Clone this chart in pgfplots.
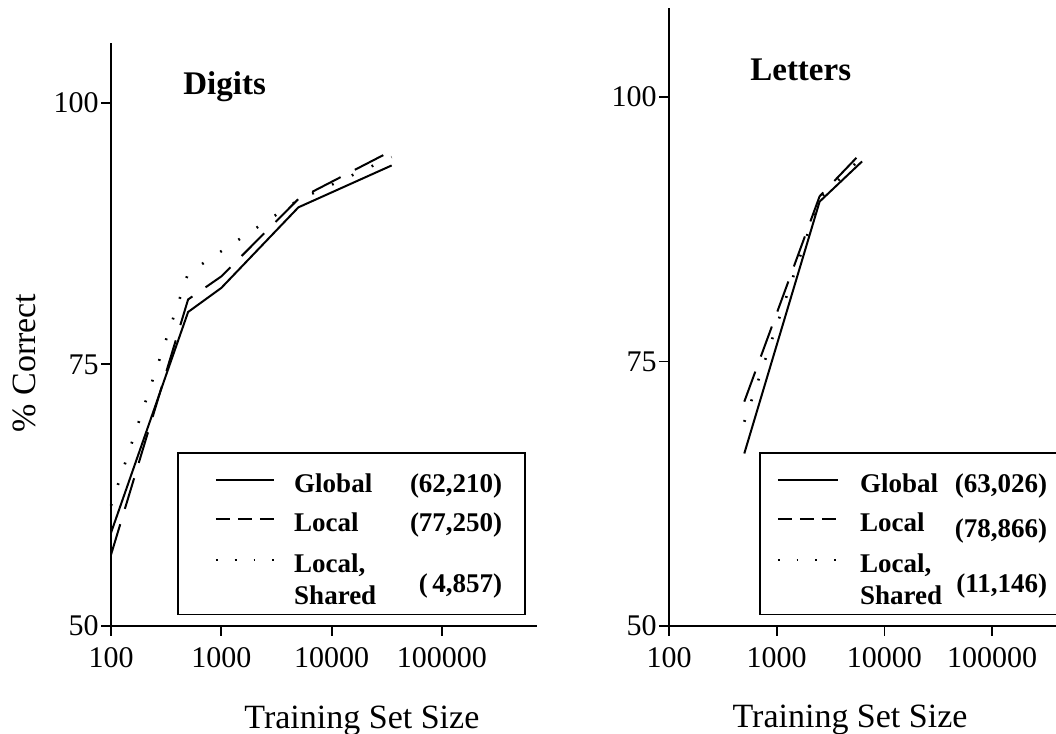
\documentclass[border=0pt]{standalone}
\usepackage{fontspec}
\setmainfont{Liberation Serif}
\usepackage{pgfplots}
\pgfplotsset{compat=1.18}

% 1 px of the reference = 0.5pt
\tikzset{
  gl/.style={black, line width=1pt},
  lo/.style={black, line width=1pt, dash pattern=on 16pt off 8pt},
  ls/.style={black, line width=1.3pt, dash pattern=on 0.9pt off 10pt},
}
\pgfplotsset{
  chartpanel/.style={
    scale only axis, clip=false,
    xminorticks=false, yminorticks=false,
    axis x line=bottom, axis y line=left,
    axis line style={-, line width=0.9pt},
    tick align=outside, major tick length=5pt,
    tick style={black, line width=0.9pt},
    xtick={100,1000,10000,100000}, xticklabels={100,1000,10000,100000},
    ytick={50,75,100}, yticklabels={50,75,100},
    xmin=100, ymin=50,
    ticklabel style={font=\fontsize{15}{18}\selectfont},
    xticklabel style={yshift=-2pt},
    yticklabel style={inner xsep=1pt},
    xlabel={Training Set Size},
    x label style={anchor=base, font=\fontsize{17}{20}\selectfont},
    y label style={rotate=0, anchor=center, font=\fontsize{17}{20}\selectfont},
    legend style={draw=black, line width=0.9pt, fill=white,
      inner xsep=0pt, inner ysep=0pt, row sep=0pt,
      font=\fontsize{13.5}{16}\selectfont\bfseries,
      nodes={inner sep=0pt, text depth=},
      cells={anchor=base west}},
  },
}

\begin{document}
\begin{tikzpicture}

% ---------------- Digits ----------------
\begin{semilogxaxis}[chartpanel,
  at={(55.5pt,54pt)}, anchor=south west,
  width=213pt, height=291.5pt,
  xmax=727800, ymax=105.7,
  ylabel={\% Correct},
  y label style={at={(axis description cs:-0.204,0.451)}},
  x label style={at={(axis description cs:0.589,-0.175)}},
  legend image code/.code={\path[draw=none] (0pt,6.5pt) -- (19pt,6.5pt);
    \draw[#1] (19pt,6.5pt) -- (48pt,6.5pt);},
  legend style={at={(0.155,0.2985)}, anchor=north west,
    /tikz/every odd column/.style={column sep=9.5pt}},
]
\addplot[gl, forget plot] coordinates {(100,58.9) (500,80.0) (1000,82.3) (5000,90.0) (35000,94.0)};
\addplot[lo, forget plot] coordinates {(100,56.8) (500,81.2) (1000,83.4) (5000,90.8) (35000,95.4)};
\addplot[ls, forget plot] coordinates {(100,61.5) (500,83.7) (5000,90.7) (35000,94.8)};

\addlegendimage{black, line width=1pt}
\addlegendentry{\rule[-5pt]{0pt}{25pt}\makebox[55.5pt][l]{Global}\makebox[48.5pt][r]{(62,210)}\kern11.5pt}
\addlegendimage{black, line width=1pt, dash pattern=on 7pt off 4pt}
\addlegendentry{\rule[-9.3pt]{0pt}{23.8pt}\makebox[55.5pt][l]{Local}\makebox[48.5pt][r]{(77,250)}\kern11.5pt}
\addlegendimage{black, line width=1.3pt, dash pattern=on 0.9pt off 8.5pt}
\addlegendentry{\makebox[55.5pt][l]{{\begin{tabular}[t]{@{}l@{}}Local,\\Shared\end{tabular}}}\makebox[48.5pt][r]{\raisebox{-10pt}{(\,4,857)}}\kern11.5pt}

\node[anchor=base west, inner sep=0pt, font=\fontsize{16.5}{19}\selectfont\bfseries]
  at (rel axis cs:0.169,0.911) {Digits};
\end{semilogxaxis}

% ---------------- Letters ----------------
\begin{semilogxaxis}[chartpanel,
  at={(334.5pt,54pt)}, anchor=south west,
  width=195.5pt, height=309pt,
  xmax=426600, ymax=108.4,
  x label style={at={(axis description cs:0.463,-0.165)}},
  legend image code/.code={\path[draw=none] (0pt,6.5pt) -- (9pt,6.5pt);
    \draw[#1] (9pt,6.5pt) -- (39pt,6.5pt);},
  legend style={at={(0.230,0.2816)}, anchor=north west,
    /tikz/every odd column/.style={column sep=10.5pt}},
]
\addplot[gl, forget plot] coordinates {(500,66.3) (2500,90.1) (6200,93.9)};
\addplot[lo, forget plot] coordinates {(500,71.2) (2500,90.6) (6200,94.8)};
\addplot[ls, forget plot] coordinates {(500,69.3) (2500,90.4) (6200,94.3)};

\addlegendimage{black, line width=1pt}
\addlegendentry{\rule[-5pt]{0pt}{25pt}\makebox[47.5pt][l]{Global}\makebox[46pt][r]{(63,026)}\kern12pt}
\addlegendimage{black, line width=1pt, dash pattern=on 7pt off 4pt}
\addlegendentry{\rule[-9.3pt]{0pt}{23.8pt}\makebox[47.5pt][l]{Local}\makebox[46pt][r]{\raisebox{-3pt}{(78,866)}}\kern12pt}
\addlegendimage{black, line width=1.3pt, dash pattern=on 0.9pt off 8.5pt}
\addlegendentry{\makebox[47.5pt][l]{{\begin{tabular}[t]{@{}l@{}}Local,\\Shared\end{tabular}}}\makebox[46pt][r]{\raisebox{-10pt}{(11,146)}}\kern12pt}

\node[anchor=base west, inner sep=0pt, font=\fontsize{16.5}{19}\selectfont\bfseries]
  at (rel axis cs:0.207,0.883) {Letters};
\end{semilogxaxis}

\pgfresetboundingbox
\path[use as bounding box] (0,0) rectangle (528pt,367pt);
\end{tikzpicture}
\end{document}
